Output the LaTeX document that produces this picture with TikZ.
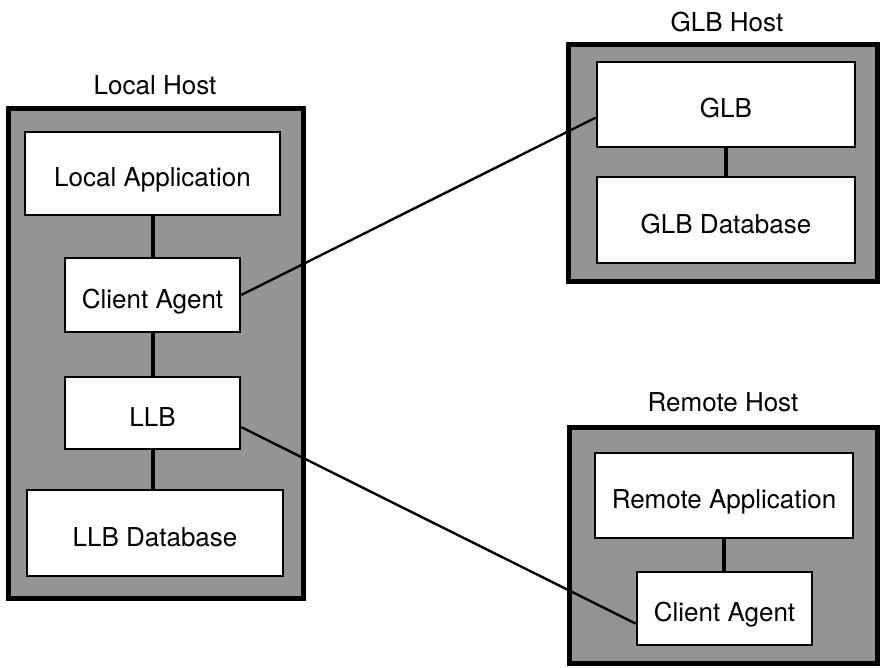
\documentclass[tikz,border=0pt]{standalone}
\usepackage{fontspec}
\setmainfont{TeX Gyre Heros}
\usetikzlibrary{calc}
\begin{document}
\begin{tikzpicture}[x=1pt,y=-1pt,
  host/.style={draw=black, line width=5pt, fill=black!42, inner sep=0pt},
  box/.style={draw=black, line width=2.6pt, fill=white, inner sep=0pt, align=center,
    text height=26pt, text depth=0pt,
    font=\fontsize{26}{30}\selectfont},
  hostlabel/.style={font=\fontsize{26}{30}\selectfont, inner sep=0pt},
  vconn/.style={line width=4pt},
  link/.style={line width=2.4pt}]
\useasboundingbox (0,0) rectangle (880,667);
% hosts
\node[host, minimum width=295, minimum height=490] (lh) at (155.5,353) {};
\node[host, minimum width=309, minimum height=237] (gh) at (722.5,162.5) {};
\node[host, minimum width=308, minimum height=236] (rh) at (723,545) {};
% host labels
\node[hostlabel] (lhl) at (155,85) {Local Host};
\node[hostlabel] (ghl) at (727,22) {GLB Host};
\node[hostlabel] (rhl) at (723,402) {Remote Host};
% local host boxes
\node[box, minimum width=255, minimum height=83] (la) at (152.5,173.5) {Local Application};
\node[box, minimum width=175, minimum height=74] (ca) at (152.5,295) {Client Agent};
\node[box, minimum width=175, minimum height=72] (llb) at (152.5,413) {LLB};
\node[box, minimum width=256, minimum height=86] (lldb) at (155,533) {LLB Database};
% GLB host boxes
\node[box, minimum width=258, minimum height=85] (glb) at (726,104.5) {GLB};
\node[box, minimum width=258, minimum height=86] (glbdb) at (726,220) {GLB Database};
% remote host boxes
\node[box, minimum width=258, minimum height=85] (ra) at (724,495.5) {Remote Application};
\node[box, minimum width=175, minimum height=73] (rca) at (724.5,608.5) {Client Agent};
% vertical connectors
\draw[vconn] (la.south) -- (ca.north);
\draw[vconn] (ca.south) -- (llb.north);
\draw[vconn] (llb.south) -- (llb.south |- lldb.north);
\draw[vconn] (glb.south) -- (glb.south |- glbdb.north);
\draw[vconn] (ra.south) -- (ra.south |- rca.north);
% links
\draw[link] (ca.east) -- ($(glb.north west)!0.65!(glb.south west)$);
\draw[link] ($(llb.north east)!0.69!(llb.south east)$) -- ($(rca.north west)!0.70!(rca.south west)$);
\end{tikzpicture}
\end{document}
